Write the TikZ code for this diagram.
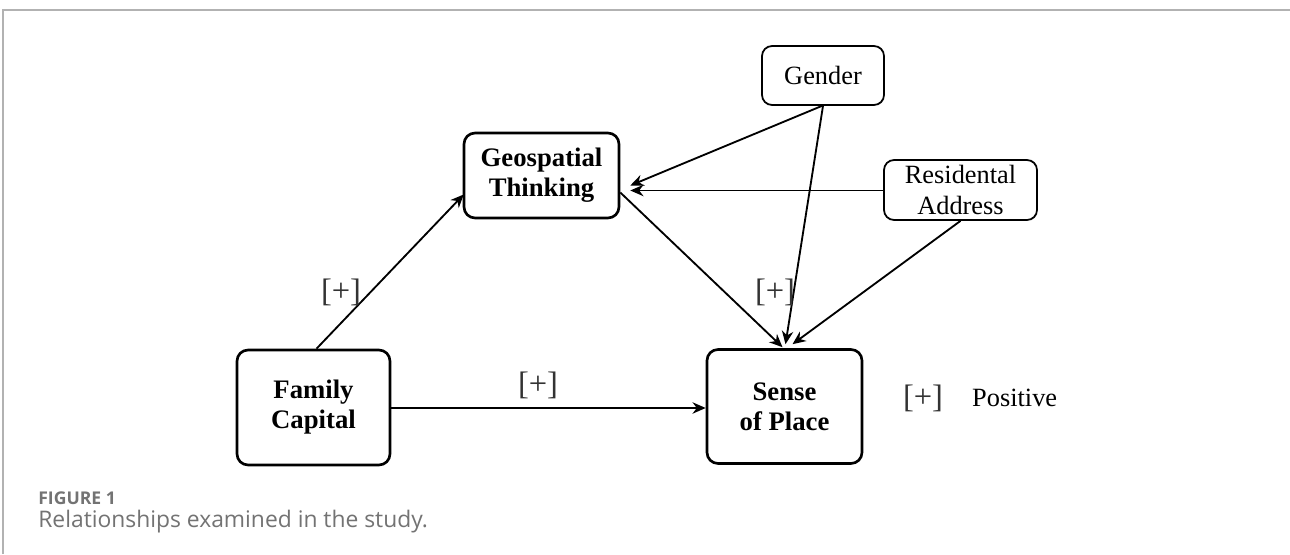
\documentclass[tikz,border=0pt]{standalone}
\usepackage{fontspec}
\setmainfont{Liberation Serif}
\newfontfamily\capfont{Open Sans}
\usetikzlibrary{arrows.meta,calc}
\begin{document}
\begin{tikzpicture}[x=0.02cm,y=-0.02cm,
  mainbox/.style={draw, line width=1.5pt, rounded corners=0.22cm, align=center,
    font=\fontsize{15.2}{17}\selectfont\bfseries, inner sep=0pt},
  smallbox/.style={draw, line width=1.0pt, rounded corners=0.2cm, align=center,
    font=\fontsize{15}{17.5}\selectfont, inner sep=0pt},
  conn/.style={line width=1.05pt, -{Stealth[length=7.5pt,width=6.5pt]}},
  plus/.style={font=\fontsize{18.5}{20}\selectfont, text=black!80},
  frameline/.style={draw=black!30, line width=0.9pt}]
\useasboundingbox (0,0) rectangle (1290,554);
\fill[white] (0,0) rectangle (1290,554);
\coordinate (fbl) at (3,554);
\coordinate (ftl) at (3,10);
\coordinate (ftr) at (1290,10);
\draw[frameline] (fbl) -- (ftl) -- (ftr);

\node[mainbox, minimum width=3.1cm, minimum height=1.7cm] (geo) at (541.5,175.5) {Geospatial\\Thinking};
\node[mainbox, minimum width=3.06cm, minimum height=2.3cm] (fam) at (313.5,407.5) {Family\\Capital};
\node[mainbox, minimum width=3.1cm, minimum height=2.28cm] (sop) at (784.5,406.5) {Sense\\of Place};
\node[smallbox, minimum width=2.44cm, minimum height=1.18cm] (gen) at (823,75.5) {Gender};
\node[smallbox, minimum width=3.06cm, minimum height=1.2cm] (res) at (960.5,190) {Residental\\Address};

\coordinate (gin1) at ($(geo.east)+(10,10)$);
\coordinate (gin2) at ($(geo.east)+(10,15)$);
\coordinate (gout) at ($(geo.east)+(0,17)$);

\draw[conn] ($(fam.north)+(3,0)$) -- ($(geo.west)+(1,19)$);
\draw[conn] (gout) -- ($(sop.north)+(-2,-1)$);
\draw[conn] ($(gen.south)+(-1,0)$) -- (gin1);
\draw[conn] (res.west |- gin2) -- (gin2);
\draw[conn] ($(gen.south)+(0,0)$) -- ($(sop.north)+(1,-4)$);
\draw[conn] (res.south) -- ($(sop.north)+(8,-4)$);
\draw[conn] (fam.east |- 0,408) -- (sop.west |- 0,408);

\node[plus] (p1) at (341,292) {[+]};
\node[plus] (p2) at (775,292) {[+]};
\node[plus] (p3) at (538,385) {[+]};
\node[plus] (p4) at (923,398) {[+]};
\node[font=\fontsize{15}{17}\selectfont, anchor=west] (pos) at (966,398) {Positive};

\node[font=\capfont\bfseries\fontsize{10}{12}\selectfont, text=black!55, anchor=base west, inner sep=0pt] (fig) at (38,504) {FIGURE 1};
\node[font=\capfont\fontsize{13}{15}\selectfont, text=black!55, anchor=base west, inner sep=0pt] (capt) at (38,527) {Relationships examined in the study.};
\end{tikzpicture}
\end{document}
